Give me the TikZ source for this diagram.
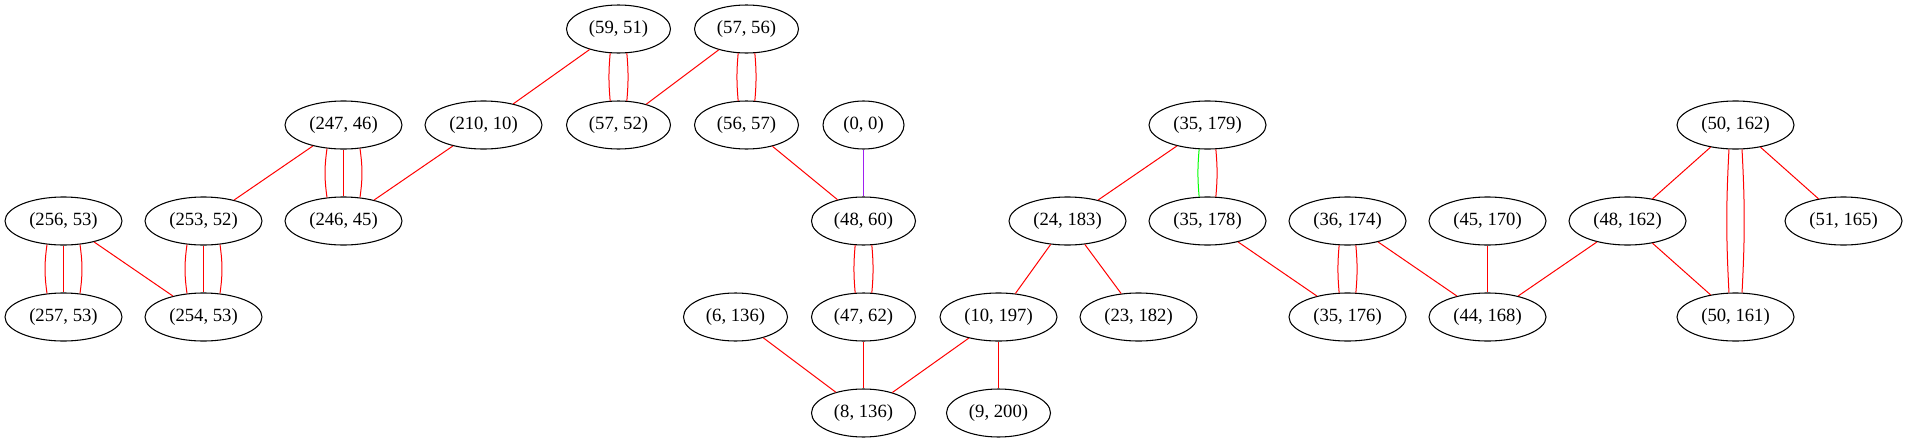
\documentclass[tikz,border=0pt]{standalone}
\usepackage{fontspec}
\setmainfont{Liberation Serif}
\usepackage{xcolor}
\usetikzlibrary{shapes.geometric}
\definecolor{gvpurple}{HTML}{A020F0}
\definecolor{gvgreen}{HTML}{00FF00}
\tikzset{
    tuple/.style={draw, ellipse, inner sep=0pt, line width=0.8pt,
        minimum height=36pt, minimum width=78pt,
        font=\fontsize{14}{16}\selectfont},
    widetuple/.style={tuple, minimum width=87.75pt},
    smalltuple/.style={tuple, minimum width=60.75pt},
    link/.style={draw=red, line width=0.75pt},
}

\begin{document}
\begin{tikzpicture}[x=0.75pt, y=-0.75pt]
                \useasboundingbox (0, 0) rectangle (1907, 443);

            \begin{scope}[xshift=0.375pt]
                \node[tuple] (n59x51) at (618, 29) {(59, 51)};
                \node[tuple] (n57x56) at (746, 29) {(57, 56)};

                \node[widetuple] (n247x46) at (343, 125) {(247, 46)};
                \node[widetuple] (n210x10) at (483, 125) {(210, 10)};
                \node[tuple] (n57x52) at (618, 125) {(57, 52)};
                \node[tuple] (n56x57) at (746, 125) {(56, 57)};
                \node[smalltuple] (n0x0) at (863, 125) {(0, 0)};
                \node[widetuple] (n35x179) at (1207, 125) {(35, 179)};
                \node[widetuple] (n50x162) at (1735, 125) {(50, 162)};

                \node[widetuple] (n256x53) at (63, 221) {(256, 53)};
                \node[widetuple] (n253x52) at (203, 221) {(253, 52)};
                \node[widetuple] (n246x45) at (343, 221) {(246, 45)};
                \node[tuple] (n48x60) at (863, 221) {(48, 60)};
                \node[widetuple] (n24x183) at (1067, 221) {(24, 183)};
                \node[widetuple] (n35x178) at (1207, 221) {(35, 178)};
                \node[widetuple] (n36x174) at (1347, 221) {(36, 174)};
                \node[widetuple] (n45x170) at (1487, 221) {(45, 170)};
                \node[widetuple] (n48x162) at (1627, 221) {(48, 162)};
                \node[widetuple] (n51x165) at (1843, 221) {(51, 165)};

                \node[widetuple] (n257x53) at (63, 317) {(257, 53)};
                \node[widetuple] (n254x53) at (203, 317) {(254, 53)};
                \node[tuple] (n6x136) at (735, 317) {(6, 136)};
                \node[tuple] (n47x62) at (863, 317) {(47, 62)};
                \node[widetuple] (n10x197) at (998, 317) {(10, 197)};
                \node[widetuple] (n23x182) at (1138, 317) {(23, 182)};
                \node[widetuple] (n35x176) at (1347, 317) {(35, 176)};
                \node[widetuple] (n44x168) at (1487, 317) {(44, 168)};
                \node[widetuple] (n50x161) at (1735, 317) {(50, 161)};

                \node[tuple] (n8x136) at (863, 413) {(8, 136)};
                \node[tuple] (n9x200) at (998, 413) {(9, 200)};
            \end{scope}

                % single links
                \draw[link] (n59x51) -- (n210x10);
                \draw[link] (n57x56) -- (n57x52);
                \draw[link] (n247x46) -- (n253x52);
                \draw[link] (n210x10) -- (n246x45);
                \draw[link] (n56x57) -- (n48x60);
                \draw[link, draw=gvpurple] (n0x0) -- (n48x60);
                \draw[link] (n256x53) -- (n254x53);
                \draw[link] (n6x136) -- (n8x136);
                \draw[link] (n47x62) -- (n8x136);
                \draw[link] (n10x197) -- (n8x136);
                \draw[link] (n10x197) -- (n9x200);
                \draw[link] (n35x179) -- (n24x183);
                \draw[link] (n24x183) -- (n10x197);
                \draw[link] (n24x183) -- (n23x182);
                \draw[link] (n35x178) -- (n35x176);
                \draw[link] (n36x174) -- (n44x168);
                \draw[link] (n45x170) -- (n44x168);
                \draw[link] (n48x162) -- (n44x168);
                \draw[link] (n50x162) -- (n48x162);
                \draw[link] (n50x162) -- (n51x165);
                \draw[link] (n48x162) -- (n50x161);

                % double links
                \draw[link] (n59x51.-109) to[bend right=5] (n57x52.109);
                \draw[link] (n59x51.-71) to[bend left=5] (n57x52.71);
                \draw[link] (n57x56.-109) to[bend right=5] (n56x57.109);
                \draw[link] (n57x56.-71) to[bend left=5] (n56x57.71);
                \draw[link] (n48x60.-109) to[bend right=5] (n47x62.109);
                \draw[link] (n48x60.-71) to[bend left=5] (n47x62.71);
                \draw[link, draw=gvgreen] (n35x179.-109) to[bend right=5] (n35x178.109);
                \draw[link] (n35x179.-71) to[bend left=5] (n35x178.71);
                \draw[link] (n36x174.-109) to[bend right=5] (n35x176.109);
                \draw[link] (n36x174.-71) to[bend left=5] (n35x176.71);
                \draw[link] (n50x162.-105) to[bend right=3] (n50x161.105);
                \draw[link] (n50x162.-75) to[bend left=3] (n50x161.75);

                % triple links
                \draw[link] (n247x46.-125) to[bend right=8] (n246x45.125);
                \draw[link] (n247x46) -- (n246x45);
                \draw[link] (n247x46.-55) to[bend left=8] (n246x45.55);
                \draw[link] (n256x53.-125) to[bend right=8] (n257x53.125);
                \draw[link] (n256x53) -- (n257x53);
                \draw[link] (n256x53.-55) to[bend left=8] (n257x53.55);
                \draw[link] (n253x52.-125) to[bend right=8] (n254x53.125);
                \draw[link] (n253x52) -- (n254x53);
                \draw[link] (n253x52.-55) to[bend left=8] (n254x53.55);
            \end{tikzpicture}
\end{document}
